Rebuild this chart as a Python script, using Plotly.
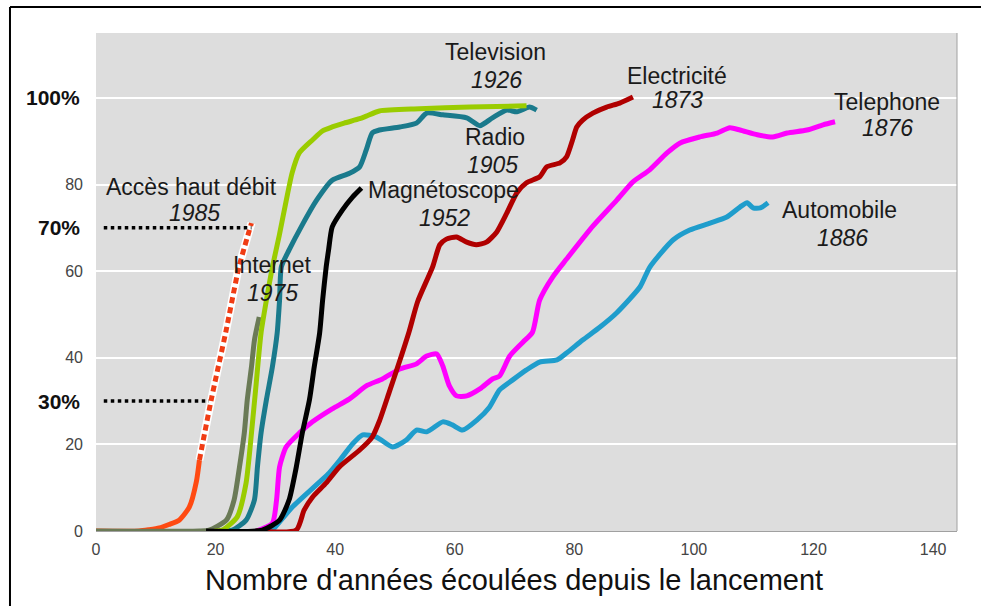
import plotly.graph_objects as go

# years since launch (x) vs share of households in % (y)
broadband_x = [0, 7.2, 8.9, 10.6, 12.2, 13.9, 15.6, 16.8, 17.3]
broadband_y = [0, 0, 0.3, 0.7, 1.5, 2.5, 5.5, 11.5, 16.4]
broadband_proj_x = [17.3, 19.3, 21.7, 23.9, 26.0]
broadband_proj_y = [16.4, 30.5, 45.9, 60.9, 71.1]

internet_x = [0, 17.3, 18.9, 21.8, 23.1, 24.0, 24.8, 25.3, 26.0, 26.5, 27.3]
internet_y = [0, 0, 0.2, 2.5, 7.2, 14.8, 22.6, 30.3, 37.9, 44.1, 49.4]

tv_x = [19.8, 21.1, 23.6, 25.1, 26.0, 26.8, 27.6, 28.5, 29.5, 30.7, 31.8, 32.8,
        34.0, 36.2, 37.9, 39.5, 41.5, 44.1, 45.2, 47.4, 54.1, 62.5, 72.0]
tv_y = [0, 0.2, 3.2, 11.1, 22.6, 34.2, 45.7, 53.3, 60.9, 68.6, 76.2, 82.7,
        87.3, 90.3, 92.4, 93.3, 94.2, 95.2, 95.8, 97.0, 97.5, 97.9, 98.2]

radio_x = [20.6, 22.8, 25.1, 26.5, 27.0, 27.6, 28.5, 29.5, 30.3, 30.7, 31.0, 32.3,
           34.5, 36.9, 39.5, 42.4, 44.1, 45.2, 46.2, 47.4, 50.8, 53.6, 55.3, 58.0,
           62.0, 64.2, 66.3, 68.7, 70.4, 72.5, 73.7]
radio_y = [0, 0.2, 2.5, 7.2, 14.8, 22.6, 30.3, 37.9, 45.7, 53.3, 61.0, 64.9,
           70.7, 76.4, 81.0, 82.6, 84.1, 88.0, 91.9, 92.6, 93.3, 94.2, 96.5, 96.1,
           95.4, 93.6, 95.4, 97.2, 96.8, 97.9, 97.2]

vcr_x = [18.4, 27.8, 30.7, 32.3, 33.5, 34.5, 35.7, 36.5, 37.4, 37.9, 38.5, 38.9,
         39.5, 41.2, 42.9, 44.4]
vcr_y = [0, 0.2, 2.5, 7.2, 14.8, 22.6, 30.3, 37.9, 45.7, 53.3, 61.0, 64.9,
         70.2, 74.1, 77.1, 79.2]

elec_x = [26.8, 33.5, 34.8, 36.2, 38.5, 40.7, 44.1, 46.2, 47.4, 49.1, 50.8, 52.4,
          53.8, 56.3, 57.5, 58.6, 60.3, 62.0, 63.6, 65.3, 67.0, 68.7, 70.4, 72.0,
          74.2, 75.4, 77.6, 78.7, 79.7, 80.4, 81.4, 83.1, 85.4, 87.6, 89.8]
elec_y = [0, 0.2, 4.8, 7.8, 11.1, 14.8, 18.7, 21.7, 25.4, 32.3, 39.3, 46.2,
          53.0, 61.0, 66.1, 67.4, 67.9, 66.7, 66.1, 66.7, 69.0, 73.4, 78.1, 80.4,
          81.8, 84.1, 85.0, 86.4, 90.3, 93.3, 94.9, 96.5, 97.9, 98.8, 100.2]

phone_x = [26.8, 29.5, 30.2, 30.7, 31.8, 34.0, 36.2, 39.5, 42.4, 45.2, 47.9, 50.8,
           53.6, 55.3, 57.0, 58.0, 59.1, 60.3, 62.0, 64.2, 66.3, 67.5, 69.2, 71.4,
           73.0, 74.2, 76.4, 78.7, 83.1, 87.1, 89.8, 92.6, 95.5, 97.7, 101.0, 103.9,
           106.0, 107.7, 110.6, 113.2, 115.6, 118.9, 121.6, 123.6]
phone_y = [0, 1.8, 7.2, 14.8, 19.4, 22.6, 25.2, 28.2, 30.5, 33.5, 35.1, 37.4,
           38.6, 40.4, 40.9, 38.1, 33.5, 31.2, 31.2, 32.8, 35.1, 35.8, 40.4, 43.6,
           45.9, 53.3, 58.7, 62.8, 70.4, 76.4, 80.6, 83.4, 87.3, 89.6, 91.0, 91.9,
           93.1, 92.6, 91.5, 91.0, 91.9, 92.6, 93.8, 94.5]

auto_x = [29.0, 29.5, 32.8, 39.0, 40.7, 42.9, 44.6, 46.9, 49.6, 51.9, 53.6, 55.3,
          58.0, 59.6, 61.3, 63.7, 65.8, 67.5, 69.7, 72.0, 74.2, 77.1, 78.7, 81.4,
          84.3, 87.1, 91.0, 92.6, 96.5, 99.3, 102.7, 105.5, 107.7, 108.9, 109.9,
          111.1, 112.4]
auto_y = [0, 0.2, 5.5, 13.4, 16.2, 20.1, 22.2, 21.7, 19.4, 21.0, 23.3, 22.9,
          25.2, 24.5, 23.3, 25.6, 28.6, 32.6, 34.9, 37.2, 39.0, 39.5, 41.1, 44.1,
          47.1, 50.4, 56.4, 60.9, 67.2, 69.5, 71.1, 72.5, 74.8, 75.8, 74.6,
          74.6, 75.8]

# reference levels drawn as dotted guides
guide70_x = [1.3, 26.0]
guide70_y = [70, 70]
guide30_x = [1.3, 18.9]
guide30_y = [30, 30]

labels = [
    ("Television", "1926", 66.8, 110.6, 67.0, 104.2),
    ("Electricité", "1873", 97.2, 105.1, 97.2, 99.5),
    ("Telephone", "1876", 132.3, 99.1, 132.3, 93.1),
    ("Radio", "1905", 66.7, 91.0, 66.3, 84.5),
    ("Magnétoscope", "1952", 58.1, 78.8, 58.3, 72.3),
    ("Accès haut débit", "1985", 15.9, 79.4, 16.4, 73.4),
    ("Internet", "1975", 29.5, 61.4, 29.6, 55.0),
    ("Automobile", "1886", 124.3, 74.1, 124.8, 67.7),
]

FONT = "Liberation Sans, Arial, sans-serif"
LW = 5

fig = go.Figure()


def line(x, y, color, width=LW, dash=None):
    fig.add_trace(go.Scatter(
        x=x, y=y, mode="lines",
        line=dict(color=color, width=width, dash=dash, shape="spline", smoothing=0.6),
        hoverinfo="skip", showlegend=False,
    ))


line(broadband_x, broadband_y, "#ff4a12")
line(internet_x, internet_y, "#6a7a56")
line(auto_x, auto_y, "#1f9dcc")
line(phone_x, phone_y, "#ff00ff")
line(elec_x, elec_y, "#b00000")
line(radio_x, radio_y, "#1a7a8c")
line(tv_x, tv_y, "#9acc00")
line(vcr_x, vcr_y, "#000000")
line(broadband_proj_x, broadband_proj_y, "#ffffff", width=8)
line(broadband_proj_x, broadband_proj_y, "#f03c14", width=5, dash="6px,4px")
line(guide70_x, guide70_y, "#000000", width=3.5, dash="dot")
line(guide30_x, guide30_y, "#000000", width=3.5, dash="dot")

for name, year, nx, ny, yx, yy in labels:
    fig.add_annotation(x=nx, y=ny, text=name, showarrow=False,
                       font=dict(family=FONT, size=23, color="#1a1a1a"))
    fig.add_annotation(x=yx, y=yy, text="<i>" + year + "</i>", showarrow=False,
                       font=dict(family=FONT, size=23, color="#1a1a1a"))

for pct in [100, 70, 30]:
    fig.add_annotation(x=0, xref="paper", xanchor="right", xshift=-14, y=pct,
                       text="<b>%d%%</b>" % pct, showarrow=False,
                       font=dict(family=FONT, size=21, color="#111111"))

fig.add_annotation(x=0.485, xref="paper", y=-0.098, yref="paper", yanchor="middle",
                   text="Nombre d'années écoulées depuis le lancement",
                   showarrow=False, font=dict(family=FONT, size=29, color="#111111"))

# outer frame (left and top) and right edge of plot area
fig.add_shape(type="line", xref="paper", yref="paper", x0=-0.0999, x1=-0.0999,
              y0=1.0522, y1=-0.2, line=dict(color="#000000", width=2))
fig.add_shape(type="line", xref="paper", yref="paper", x0=-0.0999, x1=1.03,
              y0=1.0522, y1=1.0522, line=dict(color="#000000", width=2))
fig.add_shape(type="line", xref="paper", yref="paper", x0=1, x1=1, y0=0, y1=1,
              line=dict(color="#a0a0a0", width=1))

fig.update_layout(
    width=981, height=606,
    margin=dict(l=96, r=24, t=33, b=75),
    paper_bgcolor="#ffffff", plot_bgcolor="#dddddd",
    font=dict(family=FONT),
    showlegend=False,
)
fig.update_xaxes(range=[0, 144], tickvals=[0, 20, 40, 60, 80, 100, 120, 140],
                 showgrid=False, zeroline=False, showline=True, linecolor="#a0a0a0",
                 linewidth=1, ticks="", ticklabelstandoff=4,
                 tickfont=dict(size=16, color="#444444"))
fig.update_yaxes(range=[0, 115], tickvals=[0, 20, 40, 60, 80, 100],
                 ticktext=["0", "20", "40", "60", "80", ""],
                 showgrid=True, gridcolor="#ffffff", gridwidth=2, zeroline=False,
                 showline=False, ticks="", ticklabelstandoff=12,
                 tickfont=dict(size=16, color="#444444"))

fig.write_html("out.html", config={"displayModeBar": False},
               post_script="document.body.style.margin='0px';")
